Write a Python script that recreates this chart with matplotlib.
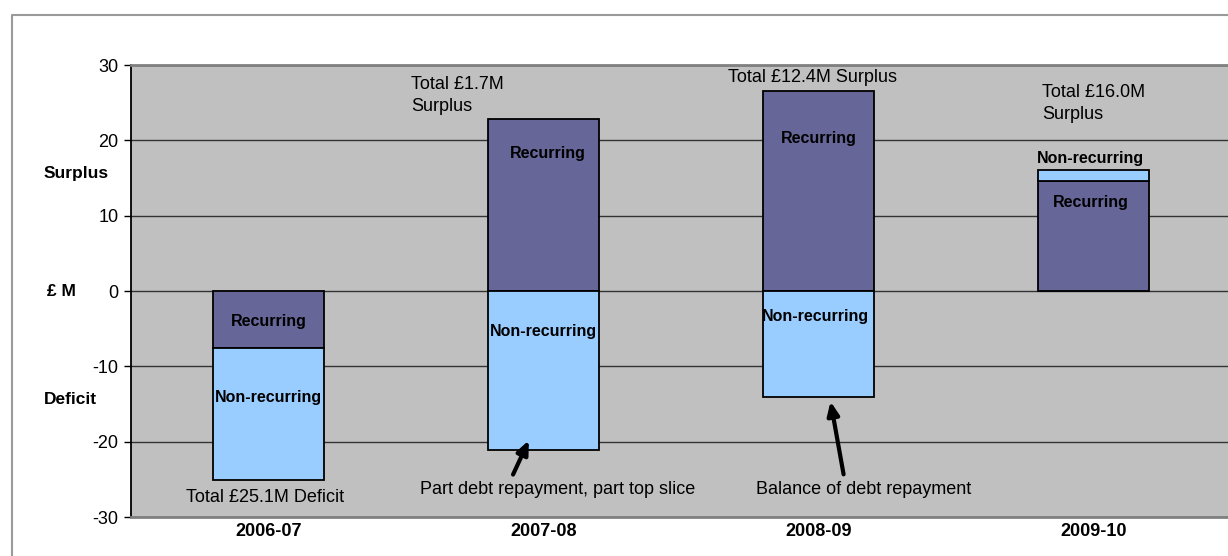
import matplotlib
matplotlib.use("Agg")
import matplotlib.pyplot as plt
from matplotlib.lines import Line2D

plt.rcParams['font.family'] = ['Liberation Sans', 'DejaVu Sans']
plt.rcParams['axes.unicode_minus'] = False

# £M per year, split into recurring and non-recurring parts
years = ['2006-07', '2007-08', '2008-09', '2009-10']
recurring = [-7.6, 22.8, 26.5, 14.6]
non_recurring = [-17.5, -21.1, -14.1, 1.4]
totals = ['Total £25.1M Deficit', 'Total £1.7M\nSurplus',
          'Total £12.4M Surplus', 'Total £16.0M\nSurplus']

REC_COLOR = '#666699'
NONREC_COLOR = '#99CCFF'

W, H = 1228, 556
fig = plt.figure(figsize=(W / 100, H / 100), dpi=100)
ax = fig.add_axes([131 / W, 39 / H, 1100 / W, 452 / H])
ax.set_facecolor('#C0C0C0')

x = list(range(len(years)))
bw = 0.407
# non-recurring stacks onto recurring when both have the same sign
nonrec_bottom = [r if r * n > 0 else 0 for r, n in zip(recurring, non_recurring)]
ax.bar(x, recurring, bw, color=REC_COLOR, edgecolor='black', linewidth=1.3, zorder=3)
ax.bar(x, non_recurring, bw, bottom=nonrec_bottom, color=NONREC_COLOR,
       edgecolor='black', linewidth=1.3, zorder=3)

ax.set_xlim(-0.5, 3.5)
ax.set_ylim(-30, 30)
ax.set_yticks(range(-30, 31, 10))
ax.yaxis.grid(True, color='#333333', linewidth=1.0, zorder=1)
ax.set_axisbelow(True)
ax.set_xticks(x)
ax.set_xticklabels(years, fontsize=13, fontweight='bold')
ax.tick_params(axis='x', length=0, pad=4)
ax.tick_params(axis='y', length=5, width=1, labelsize=13, pad=4, direction='out')

for side in ['top', 'bottom', 'right']:
    ax.spines[side].set_color('#808080')
    ax.spines[side].set_linewidth(2)
ax.spines['left'].set_color('black')
ax.spines['left'].set_linewidth(1.3)

# segment labels inside the bars
seg_labels = [
    (0, -4.1, 'Recurring'), (0, -14.1, 'Non-recurring'),
    (1.016, 18.2, 'Recurring'), (1, -5.4, 'Non-recurring'),
    (2.0, 20.3, 'Recurring'), (1.99, -3.45, 'Non-recurring'),
    (2.99, 17.65, 'Non-recurring'), (2.99, 11.7, 'Recurring'),
]
for sx, sy, s in seg_labels:
    ax.text(sx, sy, s, ha='center', va='center', fontsize=11.5, fontweight='bold', zorder=4)

# totals
tfs = 13
ax.text(-0.013, -27.35, totals[0], ha='center', va='center', fontsize=tfs)
ax.text(0.518, 25.95, totals[1], ha='left', va='center', fontsize=tfs, linespacing=1.35)
ax.text(1.671, 28.28, totals[2], ha='left', va='center', fontsize=tfs)
ax.text(2.813, 24.9, totals[3], ha='left', va='center', fontsize=tfs, linespacing=1.35)

# notes with arrows
ax.text(0.551, -26.3, 'Part debt repayment, part top slice', ha='left', va='center', fontsize=tfs)
ax.text(1.773, -26.3, 'Balance of debt repayment', ha='left', va='center', fontsize=tfs)
arrow = dict(arrowstyle='-|>,head_length=0.8,head_width=0.35', color='black', lw=3)
ax.annotate('', xy=(0.951, -19.5), xytext=(0.885, -24.7), arrowprops=arrow, zorder=5)
ax.annotate('', xy=(2.042, -14.3), xytext=(2.093, -24.7), arrowprops=arrow, zorder=5)

# side labels for the value axis
fig.text(76 / W, 1 - 173 / H, 'Surplus', ha='center', va='center', fontsize=12.5, fontweight='bold')
fig.text(61 / W, 1 - 291 / H, '£ M', ha='center', va='center', fontsize=12.5, fontweight='bold')
fig.text(70 / W, 1 - 400 / H, 'Deficit', ha='center', va='center', fontsize=12.5, fontweight='bold')

# outer chart frame
fig.add_artist(Line2D([12 / W, 12 / W, 1.0], [0, 1 - 15 / H, 1 - 15 / H],
                      transform=fig.transFigure, color='#9a9a9a', linewidth=1.5))

fig.savefig('out.png', dpi=100)
